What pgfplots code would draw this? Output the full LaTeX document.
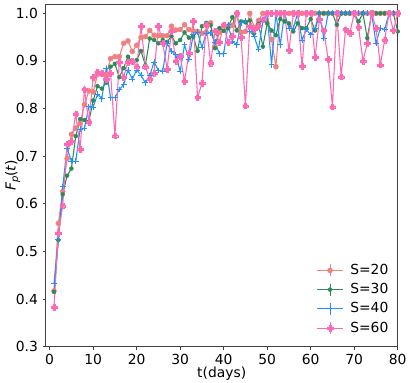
\documentclass[border=0pt]{standalone}
\usepackage{fontspec}
\setmainfont{DejaVu Sans}
\usepackage{pgfplots}
\usepackage{pgfplotstable}
\pgfplotsset{compat=1.18}

\definecolor{c20}{RGB}{240,128,128}
\definecolor{c30}{RGB}{46,139,87}
\definecolor{c40}{RGB}{30,144,255}
\definecolor{c60}{RGB}{255,105,180}

% filled plus marker (matplotlib 'P')
\pgfdeclareplotmark{Pfill}{%
  \pgfpathmoveto{\pgfqpoint{0.36\pgfplotmarksize}{\pgfplotmarksize}}%
  \pgfpathlineto{\pgfqpoint{0.36\pgfplotmarksize}{0.36\pgfplotmarksize}}%
  \pgfpathlineto{\pgfqpoint{\pgfplotmarksize}{0.36\pgfplotmarksize}}%
  \pgfpathlineto{\pgfqpoint{\pgfplotmarksize}{-0.36\pgfplotmarksize}}%
  \pgfpathlineto{\pgfqpoint{0.36\pgfplotmarksize}{-0.36\pgfplotmarksize}}%
  \pgfpathlineto{\pgfqpoint{0.36\pgfplotmarksize}{-\pgfplotmarksize}}%
  \pgfpathlineto{\pgfqpoint{-0.36\pgfplotmarksize}{-\pgfplotmarksize}}%
  \pgfpathlineto{\pgfqpoint{-0.36\pgfplotmarksize}{-0.36\pgfplotmarksize}}%
  \pgfpathlineto{\pgfqpoint{-\pgfplotmarksize}{-0.36\pgfplotmarksize}}%
  \pgfpathlineto{\pgfqpoint{-\pgfplotmarksize}{0.36\pgfplotmarksize}}%
  \pgfpathlineto{\pgfqpoint{-0.36\pgfplotmarksize}{0.36\pgfplotmarksize}}%
  \pgfpathlineto{\pgfqpoint{-0.36\pgfplotmarksize}{\pgfplotmarksize}}%
  \pgfpathclose
  \pgfusepathqfillstroke}

\pgfplotstableread{
day s20 s30 s40 s60
1 0.417 0.415 0.433 0.383
2 0.559 0.524 0.525 0.538
3 0.626 0.620 0.636 0.596
4 0.695 0.659 0.717 0.726
5 0.746 0.674 0.689 0.731
6 0.759 0.742 0.689 0.789
7 0.769 0.778 0.757 0.715
8 0.808 0.776 0.759 0.840
9 0.837 0.772 0.804 0.771
10 0.835 0.817 0.803 0.866
11 0.872 0.847 0.830 0.877
12 0.872 0.842 0.821 0.875
13 0.872 0.854 0.884 0.862
14 0.905 0.888 0.823 0.875
15 0.909 0.894 0.823 0.743
16 0.909 0.866 0.840 0.898
17 0.937 0.885 0.850 0.866
18 0.942 0.909 0.881 0.898
19 0.920 0.898 0.862 0.900
20 0.933 0.902 0.881 0.888
21 0.949 0.921 0.870 0.973
22 0.951 0.891 0.854 0.888
23 0.964 0.947 0.869 0.862
24 0.954 0.944 0.898 0.875
25 0.953 0.937 0.880 0.973
26 0.953 0.944 0.879 0.937
27 0.953 0.940 0.937 0.883
28 0.973 0.952 0.920 0.963
29 0.965 0.937 0.913 0.900
30 0.966 0.944 0.878 0.910
31 0.976 0.960 0.934 0.857
32 0.966 0.949 0.903 0.917
33 0.963 0.951 0.955 0.984
34 0.962 0.921 0.960 0.823
35 0.958 0.973 0.929 0.853
36 0.960 0.980 0.958 0.976
37 0.980 0.975 0.959 0.895
38 0.930 0.927 0.940 0.963
39 0.960 0.969 0.915 0.939
40 0.975 0.963 0.915 0.976
41 0.970 0.969 0.976 0.939
42 0.975 0.992 0.941 0.952
43 1.000 0.964 0.934 1.000
44 0.960 0.983 0.980 0.949
45 0.962 0.981 0.985 0.806
46 1.000 0.985 0.962 0.973
47 0.970 0.958 0.952 0.966
48 0.985 0.978 0.924 0.973
49 1.000 0.930 0.983 0.987
50 1.000 0.979 0.997 1.000
51 0.945 0.964 0.892 1.000
52 0.888 0.954 1.000 1.000
53 1.000 0.988 0.934 1.000
54 1.000 0.983 1.000 1.000
55 1.000 0.979 0.969 0.922
56 1.000 0.962 0.969 1.000
57 1.000 0.979 1.000 1.000
58 1.000 0.969 0.944 0.889
59 1.000 0.969 0.966 1.000
60 1.000 0.988 0.955 1.000
61 1.000 0.964 0.969 0.908
62 1.000 1.000 1.000 0.987
63 1.000 1.000 0.948 0.964
64 1.000 1.000 1.000 0.904
65 1.000 1.000 1.000 0.804
66 1.000 0.976 1.000 1.000
67 1.000 1.000 1.000 0.867
68 1.000 1.000 1.000 0.966
69 1.000 1.000 1.000 0.959
70 1.000 1.000 1.000 1.000
71 1.000 0.983 1.000 0.971
72 1.000 1.000 1.000 0.900
73 1.000 0.948 1.000 0.937
74 1.000 1.000 1.000 1.000
75 1.000 1.000 0.937 0.969
76 1.000 1.000 0.969 0.892
77 1.000 1.000 0.966 0.944
78 1.000 1.000 1.000 1.000
79 1.000 1.000 1.000 0.964
80 1.000 0.962 1.000 1.000
}\fp

\begin{document}
\begin{tikzpicture}
\begin{axis}[
  scale only axis, width=264pt, height=257pt,
  xmin=-0.9, xmax=80, ymin=0.3, ymax=1.0196,
  xtick={0,10,20,30,40,50,60,70,80},
  ytick={0.3,0.4,0.5,0.6,0.7,0.8,0.9,1.0},
  yticklabel style={/pgf/number format/.cd, fixed, fixed zerofill, precision=1},
  tick label style={font=\fontsize{10.4}{12}\selectfont},
  /pgf/number format/assume math mode=true,
  label style={font=\fontsize{10.4}{12}\selectfont},
  axis line style={black!75, line width=0.6pt},
  tick style={black!75, line width=0.6pt},
  major tick length=2.3pt, tick align=outside,
  xtick pos=lower, ytick pos=left,
  xlabel={t(days)},
  ylabel={\textit{F}\raisebox{-0.35ex}{\fontsize{7.5}{8}\selectfont\textit{p}}(\textit{t})},
  xlabel style={at={(axis description cs:0.5,-0.078)}, anchor=center},
  ylabel style={at={(axis description cs:-0.094,0.5)}, anchor=center},
  every axis plot/.append style={line width=0.8pt},
  legend cell align=left,
  legend style={at={(axis description cs:0.993,0.02)}, anchor=south east,
    draw=none, fill=none, font=\fontsize{10.4}{12}\selectfont, row sep=1.2pt,
    /tikz/every odd column/.append style={column sep=3pt}},
  legend image code/.code={
    \draw[#1,mark=none] (9.75pt,-4.5pt) -- (9.75pt,4.5pt);
    \draw[mark repeat=2,mark phase=2,#1] plot coordinates {(0pt,0pt) (9.75pt,0pt) (19.5pt,0pt)};
  },
]
\addplot[c20, mark=*, mark size=1.9pt, mark options={solid,line width=0.3pt}] table[x=day,y=s20] {\fp};
\addlegendentry{S=20}
\addplot[c30, mark=*, mark size=1.5pt, mark options={solid,line width=0.3pt}] table[x=day,y=s30] {\fp};
\addlegendentry{S=30}
\addplot[c40, mark=+, mark size=2.2pt, mark options={solid,line width=0.6pt}] table[x=day,y=s40] {\fp};
\addlegendentry{S=40}
\addplot[c60, mark=Pfill, mark size=2.1pt, mark options={solid,line width=0.2pt}] table[x=day,y=s60] {\fp};
\addlegendentry{S=60}
\end{axis}
\pgfresetboundingbox
\path[use as bounding box] (-34.3pt,-27.2pt) rectangle (273.2pt,260pt);
\end{tikzpicture}
\end{document}
